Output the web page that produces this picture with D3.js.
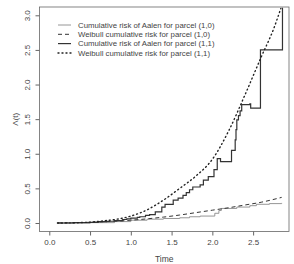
<!DOCTYPE html>
<html>
<head>
<meta charset="utf-8">
<script src="https://cdn.jsdelivr.net/npm/d3@7"></script>
<style>
  body { margin: 0; background: #fff; }
  svg { display: block; font-family: "Liberation Sans", Arial, sans-serif; }
</style>
</head>
<body>
<div id="chart"></div>
<script>
// values
const aalen10T = [0.1, 0.5, 0.8, 1.0, 1.2, 1.4, 1.6, 1.72, 1.85, 2.03, 2.08, 2.11, 2.3, 2.46, 2.54, 2.7, 2.85];
const aalen10V = [0, 0.005, 0.02, 0.04, 0.055, 0.065, 0.075, 0.09, 0.1, 0.14, 0.18, 0.21, 0.23, 0.25, 0.27, 0.28, 0.29];

const weib10T = [0.1, 0.5, 0.8, 1.0, 1.2, 1.4, 1.6, 1.8, 2.0, 2.2, 2.4, 2.6, 2.85];
const weib10V = [0, 0.01, 0.025, 0.04, 0.06, 0.085, 0.115, 0.15, 0.185, 0.22, 0.26, 0.3, 0.37];

const aalen11T = [0.1, 0.3, 0.5, 0.6, 0.7, 0.8, 0.9, 0.95, 1.0, 1.08, 1.11, 1.18, 1.23, 1.3, 1.38, 1.42, 1.52, 1.58, 1.64, 1.68, 1.72, 1.76, 1.85, 1.89, 1.95, 2.02, 2.06, 2.1, 2.235, 2.28, 2.29, 2.3, 2.32, 2.34, 2.36, 2.46, 2.47, 2.59, 2.86];
const aalen11V = [0, 0.005, 0.01, 0.02, 0.025, 0.035, 0.05, 0.06, 0.07, 0.08, 0.09, 0.11, 0.12, 0.16, 0.23, 0.27, 0.33, 0.36, 0.40, 0.44, 0.48, 0.52, 0.55, 0.62, 0.67, 0.77, 0.93, 0.886, 1.05, 1.2, 1.35, 1.49, 1.55, 1.62, 1.71, 1.72, 1.66, 2.5, 3.11];

const weib11T = [0.1, 0.3, 0.5, 0.7, 0.9, 1.0, 1.2, 1.4, 1.6, 1.8, 2.0, 2.2, 2.4, 2.6, 2.75, 2.84];
const weib11V = [0, 0.003, 0.012, 0.035, 0.07, 0.1, 0.19, 0.33, 0.5, 0.68, 0.92, 1.33, 1.85, 2.4, 2.8, 3.1];

const xTicks = [0, 0.5, 1, 1.5, 2, 2.5];
const yTicks = [0, 0.5, 1, 1.5, 2, 2.5, 3];
const legendLabels = [
  "Cumulative risk of Aalen for parcel (1,0)",
  "Weibull cumulative risk for parcel (1,0)",
  "Cumulative risk of Aalen for parcel (1,1)",
  "Weibull cumulative risk for parcel (1,1)"
];

const width = 294, height = 264;
const margin = {top: 7, right: 5, bottom: 32.5, left: 39.5};

const svg = d3.select("#chart").append("svg")
  .attr("width", width)
  .attr("height", height);

const x = d3.scaleLinear().domain([-0.12, 2.94]).range([margin.left, width - margin.right]);
const y = d3.scaleLinear().domain([-0.123, 3.12]).range([height - margin.bottom, margin.top]);

const axisCol = "#666", textCol = "#444";

// x axis
const gx = svg.append("g")
  .attr("transform", "translate(0," + (height - margin.bottom) + ")")
  .call(d3.axisBottom(x).tickValues(xTicks).tickFormat(d3.format(".1f")).tickSize(4).tickPadding(4));
gx.select(".domain").remove();
gx.selectAll("line").attr("stroke", axisCol);
gx.selectAll("text").attr("fill", textCol).style("font-size", "8px");

// y axis, labels turned like R does
const gy = svg.append("g")
  .attr("transform", "translate(" + margin.left + ",0)")
  .call(d3.axisLeft(y).tickValues(yTicks).tickFormat(d3.format(".1f")).tickSize(4));
gy.select(".domain").remove();
gy.selectAll("line").attr("stroke", axisCol);
gy.selectAll("text")
  .attr("x", null).attr("dy", "0.35em")
  .attr("transform", "translate(-12,0) rotate(-90)")
  .attr("text-anchor", "middle")
  .attr("fill", textCol).style("font-size", "8px");

// box
svg.append("rect")
  .attr("x", margin.left).attr("y", margin.top)
  .attr("width", width - margin.left - margin.right)
  .attr("height", height - margin.top - margin.bottom)
  .attr("fill", "none").attr("stroke", axisCol).attr("stroke-width", 0.8);

// axis titles
svg.append("text")
  .attr("x", (margin.left + width - margin.right) / 2).attr("y", 262)
  .attr("text-anchor", "middle").attr("fill", textCol).style("font-size", "8.5px")
  .text("Time");
svg.append("text")
  .attr("transform", "translate(15," + ((margin.top + height - margin.bottom) / 2) + ") rotate(-90)")
  .attr("text-anchor", "middle").attr("dy", "0.35em").attr("fill", textCol).style("font-size", "8px")
  .text("Λ(t)");

const styles = [
  {stroke: "#8a8a8a", width: 0.9, dash: null},
  {stroke: "#333", width: 1, dash: "4,3"},
  {stroke: "#333", width: 1.2, dash: null},
  {stroke: "#222", width: 1.4, dash: "1,3"}
];

const series = [
  {t: aalen10T, v: aalen10V, curve: d3.curveStepAfter},
  {t: weib10T, v: weib10V, curve: d3.curveMonotoneX},
  {t: aalen11T, v: aalen11V, curve: d3.curveStepAfter},
  {t: weib11T, v: weib11V, curve: d3.curveMonotoneX}
];

series.forEach((s, i) => {
  const pts = s.t.map((t, k) => [t, s.v[k]]);
  const line = d3.line().x(d => x(d[0])).y(d => y(d[1])).curve(s.curve);
  svg.append("path")
    .attr("d", line(pts))
    .attr("fill", "none")
    .attr("stroke", styles[i].stroke)
    .attr("stroke-width", styles[i].width)
    .attr("stroke-dasharray", styles[i].dash)
    .attr("stroke-linecap", i === 3 ? "round" : "butt");
});

// legend (no box)
const legendY = [25, 34.3, 43.6, 53];
const lg = svg.append("g");
legendLabels.forEach((lab, i) => {
  lg.append("line")
    .attr("x1", 58).attr("x2", 71).attr("y1", legendY[i]).attr("y2", legendY[i])
    .attr("stroke", styles[i].stroke).attr("stroke-width", styles[i].width)
    .attr("stroke-dasharray", styles[i].dash)
    .attr("stroke-linecap", i === 3 ? "round" : "butt");
  lg.append("text")
    .attr("x", 78).attr("y", legendY[i]).attr("dy", "0.35em")
    .attr("fill", textCol).style("font-size", "7.8px")
    .text(lab);
});
</script>
</body>
</html>
